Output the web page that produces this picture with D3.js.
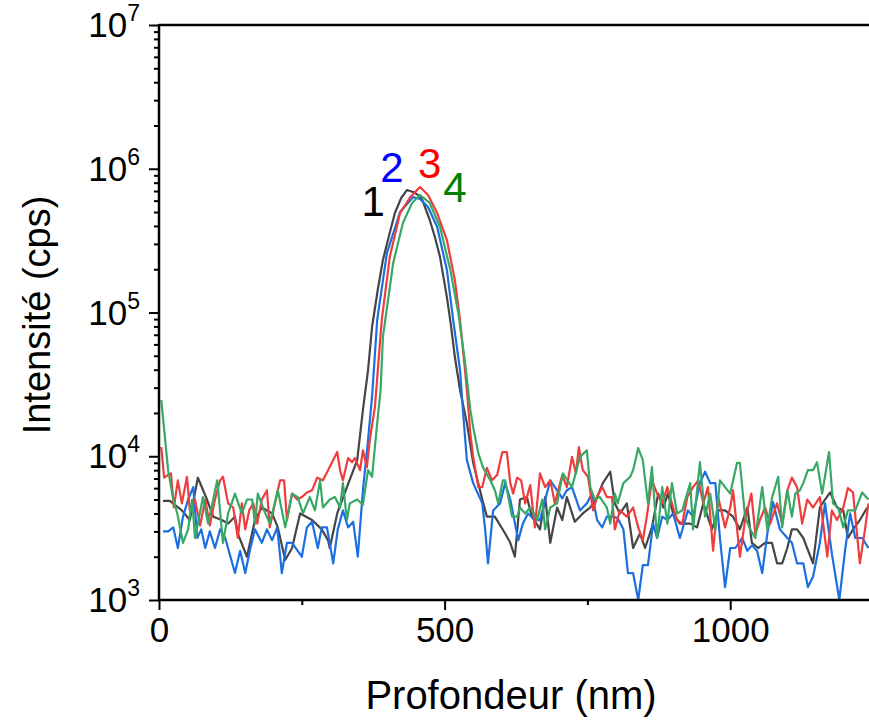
<!DOCTYPE html>
<html>
<head>
<meta charset="utf-8">
<script src="https://cdn.jsdelivr.net/npm/d3@7"></script>
<style>
  body { margin: 0; background: #fff; }
  svg text { font-family: "Liberation Sans", Arial, sans-serif; fill: #000; }
</style>
</head>
<body>
<div id="chart"></div>
<script>
var width = 869,
    height = 720;

// [profondeur (nm), intensite (cps)]
var serie1 = [[7,4900],[19,4900],[40,4200],[54,3600],[68,7100],[84,5000],[95,3800],[110,3600],[121,3400],[133,3800],
  [138,2900],[154,2000],[168,3600],[180,4400],[198,4000],[208,3200],[221,1900],[233,2300],[247,4000],[268,3600],
  [285,3100],[296,2600],[299,2300],[312,4000],[329,6100],[347,9400],[357,21000],[366,39800],[373,79300],[383,144000],
  [392,232000],[403,346000],[413,492000],[424,626000],[434,711000],[445,689000],[454,656000],[461,607000],[474,440000],
  [483,335000],[492,243000],[504,128000],[511,81900],[518,49000],[527,28900],[539,17000],[550,9000],[566,5000],
  [574,3800],[588,3800],[606,2900],[615,2500],[623,2000],[632,5000],[644,5200],[653,3800],[667,3100],[676,5200],
  [685,2500],[697,4400],[706,3600],[714,5200],[728,3500],[742,4000],[755,4400],[767,5200],[777,6500],[790,7800],
  [798,4700],[807,4000],[819,4700],[830,2300],[842,2900],[851,2300],[863,3200],[874,5500],[883,4400],[891,5500],
  [900,4000],[912,3400],[930,3400],[942,3200],[953,4700],[968,3100],[979,4200],[991,4200],[1005,3800],[1017,3100],
  [1030,4400],[1038,2500],[1049,2300],[1061,2500],[1073,2500],[1082,1800],[1091,1800],[1100,2300],[1108,3100],
  [1117,3100],[1128,2700],[1145,1800],[1157,4400],[1166,5000],[1175,5600],[1187,4400],[1198,4200],[1206,2700],
  [1215,3100],[1227,3600],[1240,4400]];

var serie2 = [[7,3000],[16,3000],[25,3200],[33,2300],[42,3800],[51,5000],[60,6100],[67,2700],[74,3100],[81,2300],
  [89,3000],[98,2300],[107,3100],[116,2700],[133,1540],[142,2200],[151,1540],[159,2200],[168,3100],[180,2500],
  [189,3100],[198,2600],[207,3200],[215,1540],[224,2500],[233,2500],[250,2000],[259,3200],[268,3500],[278,2300],
  [285,3200],[294,3200],[305,1800],[313,3100],[322,4200],[331,3200],[340,3500],[348,2000],[357,5800],[366,13000],
  [373,26000],[382,88800],[399,259000],[422,500000],[445,635000],[457,616000],[471,542000],[487,393000],[504,198000],
  [515,88800],[527,39800],[532,21000],[539,9400],[550,6500],[566,4700],[571,3100],[576,1800],[585,4200],[597,4700],
  [606,6500],[615,5000],[629,2600],[637,3400],[646,4000],[658,3600],[667,3600],[685,6800],[697,5800],[706,5100],
  [714,5800],[723,6100],[737,4200],[749,4700],[758,5500],[767,3600],[776,3200],[784,3800],[795,3800],[803,3700],
  [813,3100],[821,1540],[830,1540],[839,1000],[847,1750],[856,1750],[865,3400],[872,2700],[881,3800],[890,3600],
  [900,4000],[912,2700],[926,4200],[935,3800],[947,6500],[956,7800],[965,6500],[974,6500],[982,2700],[991,1230],
  [1000,2300],[1009,2300],[1021,2700],[1030,2200],[1038,2400],[1047,2200],[1056,1540],[1065,2900],[1075,4800],
  [1087,3100],[1100,2700],[1108,2500],[1117,1800],[1128,1800],[1136,1230],[1145,1450],[1157,2500],[1166,4700],
  [1178,2100],[1191,1000],[1201,2200],[1210,4000],[1219,2700],[1231,2700],[1242,2300]];

var serie3 = [[4,11600],[9,7100],[16,7400],[21,7600],[26,4400],[33,6800],[40,4700],[49,7200],[54,4200],[63,5000],
  [72,3300],[81,5000],[89,3300],[98,5000],[107,6800],[112,7200],[121,4700],[130,4400],[138,2700],[145,4700],
  [151,3100],[158,4200],[165,4700],[172,3400],[180,5000],[189,5800],[194,3200],[203,4700],[212,6800],[219,6800],
  [224,3600],[233,5500],[242,5000],[250,5200],[259,5600],[268,5800],[277,7100],[287,6800],[296,8000],[305,9400],
  [312,10700],[317,8000],[322,6800],[331,9700],[338,9100],[343,9700],[352,8000],[357,11000],[364,8400],[369,13000],
  [378,22000],[390,88800],[404,243000],[422,492000],[440,635000],[457,746000],[471,656000],[487,492000],[504,319000],
  [518,168000],[527,88800],[534,46700],[539,28900],[545,14500],[550,9900],[559,6100],[566,6100],[574,8300],[583,6800],
  [592,7400],[601,10700],[609,10700],[615,6500],[620,5500],[627,7100],[634,6800],[641,4700],[650,6300],[658,3200],
  [667,7600],[676,6100],[685,6800],[693,4700],[706,7400],[714,6100],[723,9900],[730,7600],[735,11600],[742,8000],
  [751,7200],[760,4200],[767,5200],[776,6100],[784,5200],[793,5200],[798,3100],[807,4200],[819,3800],[830,4400],
  [839,3200],[847,2600],[854,3800],[863,6800],[872,5500],[881,4700],[890,6100],[898,4700],[907,3600],[916,3400],
  [925,5200],[935,6100],[944,6800],[953,4700],[961,6100],[970,2200],[979,5200],[991,3200],[1000,4400],[1005,5800],
  [1017,2000],[1026,3600],[1037,5500],[1044,2900],[1052,3600],[1061,4400],[1070,3400],[1082,4700],[1091,3400],
  [1100,5800],[1108,7100],[1117,6100],[1126,3400],[1135,5000],[1145,4400],[1157,5200],[1170,2000],[1178,4200],
  [1187,3600],[1198,4400],[1206,6000],[1215,5600],[1227,1800],[1236,3100],[1242,4700]];

var serie4 = [[4,24600],[16,8000],[25,5000],[32,4000],[42,2500],[51,3100],[58,5000],[63,2700],[77,5200],[86,3400],
  [102,6800],[112,2500],[121,4000],[133,5500],[145,4000],[154,5000],[163,5000],[168,3400],[173,5500],[184,4200],
  [194,3400],[208,5800],[221,3200],[233,5500],[243,5200],[252,4000],[264,5200],[273,4200],[282,6800],[287,4400],
  [299,5000],[308,5200],[317,4400],[322,6500],[329,3600],[334,4700],[347,5000],[357,4600],[366,8000],[373,7200],
  [382,17000],[388,28900],[392,67600],[410,221000],[427,419000],[443,578000],[457,656000],[474,578000],[492,393000],
  [510,198000],[524,99300],[536,44500],[545,21000],[550,16000],[559,10500],[567,8400],[580,6800],[588,5800],
  [594,4700],[602,6800],[606,6800],[618,3800],[627,3800],[632,4400],[641,4000],[650,4400],[662,3600],[671,5000],
  [676,3100],[685,4400],[697,4700],[707,7600],[723,6100],[737,9900],[749,11000],[755,6100],[763,5000],[772,5200],
  [784,4400],[790,3400],[798,5500],[803,4700],[813,6500],[825,7200],[830,8000],[839,11400],[847,9400],[856,4700],
  [863,8400],[872,2700],[881,6100],[890,3400],[898,6500],[907,4000],[916,4200],[930,6500],[935,3100],[947,9100],
  [956,3800],[965,5500],[974,3100],[982,6800],[991,6100],[1000,5500],[1012,9000],[1017,9000],[1026,3800],[1035,3100],
  [1044,2700],[1056,6100],[1065,3100],[1073,5100],[1084,7200],[1091,3200],[1100,5800],[1108,3800],[1114,5500],
  [1122,5800],[1128,6500],[1136,8000],[1145,8000],[1152,9100],[1161,5500],[1173,10700],[1180,4700],[1189,4400],
  [1198,3200],[1206,4200],[1219,4200],[1231,5600],[1242,5000]];

var series = [
  { id: "1", data: serie1, color: "#454545" },
  { id: "2", data: serie2, color: "#1b6fe0" },
  { id: "3", data: serie3, color: "#ef3c3c" },
  { id: "4", data: serie4, color: "#37a865" }
];

// etiquettes des courbes
var labels = [
  { text: "1", depth: 375, value: 470000, color: "#000000" },
  { text: "2", depth: 408, value: 810000, color: "#0000ff" },
  { text: "3", depth: 474, value: 860000, color: "#ff0000" },
  { text: "4", depth: 518, value: 590000, color: "#008000" }
];

var xMajor = [0, 500, 1000],
    xMinor = [250, 750],
    yMajor = [1e3, 1e4, 1e5, 1e6, 1e7];

var margin = { left: 159, right: 0, top: 25, bottom: 120 };

var svg = d3.select("#chart").append("svg")
    .attr("width", width)
    .attr("height", height);

var x = d3.scaleLinear()
    .domain([0, 1243])
    .range([margin.left, width - margin.right]);

var y = d3.scaleLog()
    .domain([1e3, 1e7])
    .range([height - margin.bottom, margin.top]);

svg.append("clipPath").attr("id", "clip")
  .append("rect")
    .attr("x", margin.left).attr("y", margin.top - 1)
    .attr("width", width - margin.left).attr("height", y(1e3) - margin.top + 2);

var line = d3.line()
    .x(function(d) { return x(d[0]); })
    .y(function(d) { return y(d[1]); });

svg.append("g")
    .attr("clip-path", "url(#clip)")
  .selectAll("path")
  .data(series)
  .enter().append("path")
    .attr("d", function(d) { return line(d.data); })
    .attr("fill", "none")
    .attr("stroke", function(d) { return d.color; })
    .attr("stroke-width", 2.2)
    .attr("stroke-linejoin", "round");

// axe x
var xAxis = svg.append("g")
    .attr("transform", "translate(0," + y(1e3) + ")")
    .call(d3.axisBottom(x).tickValues(xMajor).tickSize(10).tickPadding(7).tickFormat(d3.format("d")));
xAxis.append("g")
    .call(d3.axisBottom(x).tickValues(xMinor).tickSize(5).tickFormat(""));
xAxis.selectAll(".domain").remove();
xAxis.selectAll("line").attr("stroke-width", 2);
xAxis.selectAll("text").style("font-size", "35px").attr("fill", "#000");

svg.append("line")
    .attr("x1", margin.left - 1).attr("x2", width)
    .attr("y1", y(1e3)).attr("y2", y(1e3))
    .attr("stroke", "#000").attr("stroke-width", 2.5);

// axe y (logarithmique)
var yMinor = [];
yMajor.slice(0, -1).forEach(function(v) {
  for (var k = 2; k < 10; k++) yMinor.push(v * k);
});

var yAxis = svg.append("g")
    .attr("transform", "translate(" + margin.left + ",0)");
yAxis.call(d3.axisLeft(y).tickValues(yMajor).tickSize(10).tickFormat(""));
yAxis.append("g").call(d3.axisLeft(y).tickValues(yMinor).tickSize(5).tickFormat(""));
yAxis.selectAll(".domain").remove();
yAxis.selectAll("line").attr("stroke-width", 2);

svg.append("line")
    .attr("x1", margin.left).attr("x2", margin.left)
    .attr("y1", margin.top - 1).attr("y2", y(1e3) + 1)
    .attr("stroke", "#000").attr("stroke-width", 2.5);

svg.append("line")
    .attr("x1", margin.left).attr("x2", width)
    .attr("y1", margin.top).attr("y2", margin.top)
    .attr("stroke", "#000").attr("stroke-width", 2.5);

var yLab = svg.append("g").selectAll("text")
  .data(yMajor)
  .enter().append("text")
    .attr("x", margin.left - 19)
    .attr("y", function(d) { return y(d) + 12; })
    .attr("text-anchor", "end")
    .style("font-size", "35px");
yLab.append("tspan").text("10");
yLab.append("tspan")
    .attr("dy", -16)
    .style("font-size", "23px")
    .text(function(d) { return Math.round(Math.log10(d)); });

// titres
svg.append("text")
    .attr("x", 511)
    .attr("y", 709)
    .attr("text-anchor", "middle")
    .style("font-size", "40px")
    .text("Profondeur (nm)");

svg.append("text")
    .attr("transform", "translate(50," + 315 + ") rotate(-90)")
    .attr("text-anchor", "middle")
    .style("font-size", "38px")
    .text("Intensité (cps)");

svg.append("g").selectAll("text")
  .data(labels)
  .enter().append("text")
    .attr("x", function(d) { return x(d.depth); })
    .attr("y", function(d) { return y(d.value); })
    .attr("text-anchor", "middle")
    .style("font-size", "42px")
    .style("fill", function(d) { return d.color; })
    .text(function(d) { return d.text; });
</script>
</body>
</html>
